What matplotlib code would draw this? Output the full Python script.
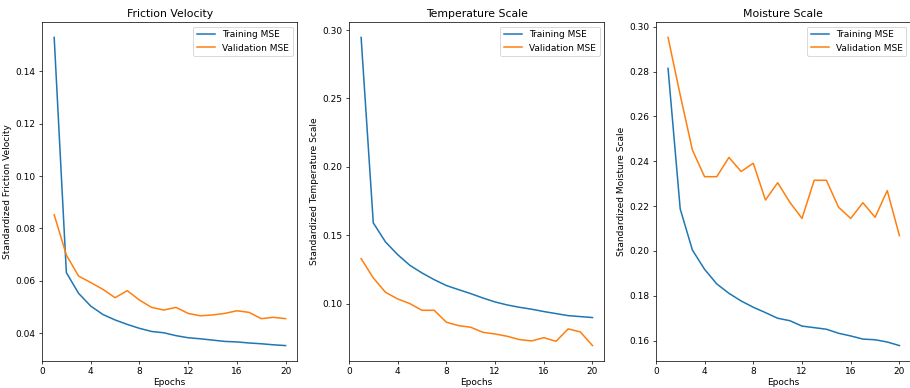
import matplotlib
matplotlib.use("Agg")
import matplotlib.pyplot as plt

epochs = list(range(1, 21))

titles = ["Friction Velocity", "Temperature Scale", "Moisture Scale"]
ylabels = ["Standardized Friction Velocity", "Standardized Temperature Scale",
           "Standardized Moisture Scale"]
xticks = [0, 4, 8, 12, 16, 20]

fv_train = [0.153, 0.0631, 0.0552, 0.0503, 0.0471, 0.0450, 0.0433, 0.0418, 0.0406, 0.0401,
            0.0390, 0.0382, 0.0378, 0.0373, 0.0368, 0.0366, 0.0362, 0.0359, 0.0355, 0.0352]
fv_val = [0.0852, 0.0698, 0.0618, 0.0593, 0.0567, 0.0535, 0.0562, 0.0526, 0.0498, 0.0488,
          0.0498, 0.0475, 0.0466, 0.0469, 0.0475, 0.0485, 0.0479, 0.0455, 0.0460, 0.0455]

ts_train = [0.2946, 0.159, 0.1451, 0.1358, 0.128, 0.1224, 0.1175, 0.1132, 0.1102, 0.1073,
            0.1041, 0.1012, 0.0990, 0.0973, 0.0959, 0.0942, 0.0927, 0.0912, 0.0905, 0.0898]
ts_val = [0.1329, 0.1188, 0.1083, 0.1034, 0.1000, 0.0951, 0.0951, 0.0864, 0.0839, 0.0827,
          0.0790, 0.0778, 0.0761, 0.0737, 0.0727, 0.0751, 0.0724, 0.0815, 0.0793, 0.0693]

ms_train = [0.2814, 0.2187, 0.2004, 0.1918, 0.1853, 0.1811, 0.1777, 0.1749, 0.1725, 0.1700,
            0.1689, 0.1665, 0.1658, 0.1651, 0.1633, 0.1621, 0.1607, 0.1604, 0.1594, 0.1578]
ms_val = [0.2952, 0.2695, 0.2450, 0.2331, 0.2331, 0.2417, 0.2354, 0.2391, 0.2227, 0.2304,
          0.2217, 0.2145, 0.2315, 0.2315, 0.2195, 0.2145, 0.2215, 0.2150, 0.2269, 0.2068]

train_series = [fv_train, ts_train, ms_train]
val_series = [fv_val, ts_val, ms_val]

fig, axes = plt.subplots(1, 3, figsize=(14, 388 / 65), dpi=65)
fig.subplots_adjust(left=42 / 910, right=911 / 910, top=1 - 22 / 388, bottom=1 - 361 / 388,
                    wspace=0.203)

for ax, t, yl, tr, va in zip(axes, titles, ylabels, train_series, val_series):
    ax.plot(epochs, tr, label="Training MSE", linewidth=1.7)
    ax.plot(epochs, va, label="Validation MSE", linewidth=1.7)
    ax.set_title(t)
    ax.set_xlabel("Epochs", labelpad=1.5)
    ax.set_ylabel(yl)
    ax.set_xticks(xticks)
    ax.set_xlim(left=0)
    ax.legend(loc="upper right")

fig.savefig("out.png", dpi=65)
